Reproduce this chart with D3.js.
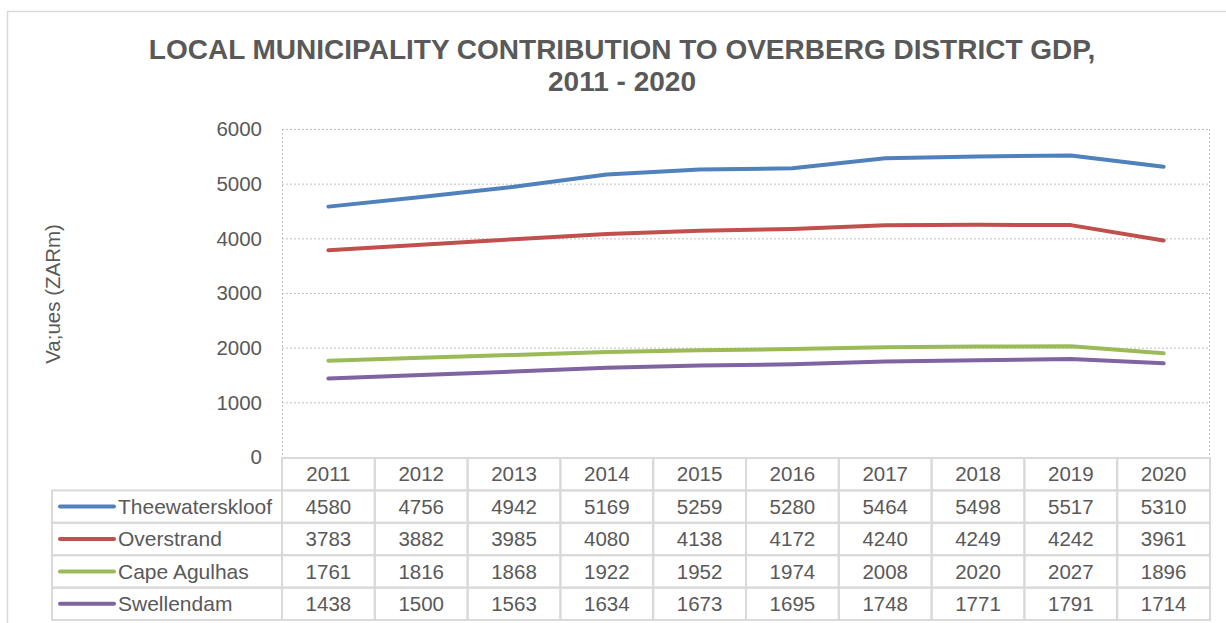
<!DOCTYPE html>
<html>
<head>
<meta charset="utf-8">
<script src="https://cdn.jsdelivr.net/npm/d3@7"></script>
<style>
  body { margin: 0; background: #fff; }
  text { font-family: "Liberation Sans", Arial, sans-serif; fill: #595959; }
</style>
</head>
<body>
<div id="chart"></div>
<script>
const width = 1226;
const height = 623;

const years = ["2011", "2012", "2013", "2014", "2015", "2016", "2017", "2018", "2019", "2020"];
const seriesNames = ["Theewaterskloof", "Overstrand", "Cape Agulhas", "Swellendam"];
const theewaterskloof = [4580, 4756, 4942, 5169, 5259, 5280, 5464, 5498, 5517, 5310];
const overstrand = [3783, 3882, 3985, 4080, 4138, 4172, 4240, 4249, 4242, 3961];
const capeAgulhas = [1761, 1816, 1868, 1922, 1952, 1974, 2008, 2020, 2027, 1896];
const swellendam = [1438, 1500, 1563, 1634, 1673, 1695, 1748, 1771, 1791, 1714];
const yTicks = [0, 1000, 2000, 3000, 4000, 5000, 6000];
const colors = ["#4f81bd", "#c0504d", "#9bbb59", "#8064a2"];

const series = [theewaterskloof, overstrand, capeAgulhas, swellendam];

const svg = d3
  .select("#chart")
  .append("svg")
  .attr("width", width)
  .attr("height", height);

// chart border
svg.append("rect")
  .attr("x", 7.5).attr("y", 11.5)
  .attr("width", width).attr("height", height)
  .attr("fill", "none")
  .attr("stroke", "#d9d9d9")
  .attr("stroke-width", 1.5);

// title
svg.append("text")
  .attr("x", 622).attr("y", 59)
  .attr("text-anchor", "middle")
  .style("font-size", "28px")
  .style("font-weight", "bold")
  .text("LOCAL MUNICIPALITY CONTRIBUTION TO OVERBERG DISTRICT GDP,");
svg.append("text")
  .attr("x", 622).attr("y", 91)
  .attr("text-anchor", "middle")
  .style("font-size", "28px")
  .style("font-weight", "bold")
  .text("2011 - 2020");

const plotLeft = 282, plotRight = 1210, plotTop = 129, plotBottom = 457;

const x = d3.scaleBand().domain(years).range([plotLeft, plotRight]);
const y = d3.scaleLinear().domain([0, 6000]).range([plotBottom, plotTop]);

// gridlines
svg.append("g")
  .selectAll("line")
  .data(yTicks.filter((t) => t > 0))
  .enter()
  .append("line")
  .attr("x1", plotLeft).attr("x2", plotRight)
  .attr("y1", (d) => y(d) + 0.5).attr("y2", (d) => y(d) + 0.5)
  .attr("stroke", "#bfbfbf")
  .attr("stroke-dasharray", "2,2");

// plot area side borders (dotted)
svg.append("line")
  .attr("x1", plotLeft + 0.5).attr("x2", plotLeft + 0.5)
  .attr("y1", plotTop).attr("y2", plotBottom)
  .attr("stroke", "#bfbfbf").attr("stroke-dasharray", "2,2");
svg.append("line")
  .attr("x1", plotRight - 0.5).attr("x2", plotRight - 0.5)
  .attr("y1", plotTop).attr("y2", plotBottom)
  .attr("stroke", "#bfbfbf").attr("stroke-dasharray", "2,2");

// y tick labels
svg.append("g")
  .selectAll("text")
  .data(yTicks)
  .enter()
  .append("text")
  .attr("x", 262)
  .attr("y", (d) => y(d))
  .attr("dy", "0.35em")
  .attr("text-anchor", "end")
  .style("font-size", "20.5px")
  .text((d) => d);

// y axis title
svg.append("text")
  .attr("transform", "translate(60,294) rotate(-90)")
  .attr("text-anchor", "middle")
  .style("font-size", "20.5px")
  .text("Va;ues (ZARm)");

// lines
const line = d3
  .line()
  .x((d, i) => x(years[i]) + x.bandwidth() / 2)
  .y((d) => y(d));

svg.append("g")
  .selectAll("path")
  .data(series)
  .enter()
  .append("path")
  .attr("d", line)
  .attr("fill", "none")
  .attr("stroke", (d, i) => colors[i])
  .attr("stroke-width", 4)
  .attr("stroke-linejoin", "round")
  .attr("stroke-linecap", "round");

// data table
const rowY = d3.scaleBand().domain(["header", ...seriesNames]).range([plotBottom + 1, 620]);
const grid = "#d9d9d9";
const table = svg.append("g");

// header row cells
table.selectAll("rect.head")
  .data(years)
  .enter()
  .append("rect")
  .attr("class", "head")
  .attr("x", (d) => x(d))
  .attr("y", rowY("header"))
  .attr("width", x.bandwidth())
  .attr("height", rowY.bandwidth())
  .attr("fill", "none")
  .attr("stroke", grid)
  .attr("stroke-width", 2);

table.selectAll("text.head")
  .data(years)
  .enter()
  .append("text")
  .attr("class", "head")
  .attr("x", (d) => x(d) + x.bandwidth() / 2)
  .attr("y", rowY("header") + rowY.bandwidth() / 2)
  .attr("dy", "0.35em")
  .attr("text-anchor", "middle")
  .style("font-size", "20.5px")
  .text((d) => d);

seriesNames.forEach((name, si) => {
  const ry = rowY(name);
  table.append("rect")
    .attr("x", 52).attr("y", ry)
    .attr("width", plotLeft - 52).attr("height", rowY.bandwidth())
    .attr("fill", "none").attr("stroke", grid).attr("stroke-width", 2);
  table.append("line")
    .attr("x1", 60).attr("x2", 114)
    .attr("y1", ry + rowY.bandwidth() / 2).attr("y2", ry + rowY.bandwidth() / 2)
    .attr("stroke", colors[si]).attr("stroke-width", 4).attr("stroke-linecap", "round");
  table.append("text")
    .attr("x", 118).attr("y", ry + rowY.bandwidth() / 2)
    .attr("dy", "0.35em")
    .style("font-size", "21px")
    .text(name);
  years.forEach((yr, i) => {
    table.append("rect")
      .attr("x", x(yr)).attr("y", ry)
      .attr("width", x.bandwidth()).attr("height", rowY.bandwidth())
      .attr("fill", "none").attr("stroke", grid).attr("stroke-width", 2);
    table.append("text")
      .attr("x", x(yr) + x.bandwidth() / 2).attr("y", ry + rowY.bandwidth() / 2)
      .attr("dy", "0.35em")
      .attr("text-anchor", "middle")
      .style("font-size", "20.5px")
      .text(series[si][i]);
  });
});
</script>
</body>
</html>
